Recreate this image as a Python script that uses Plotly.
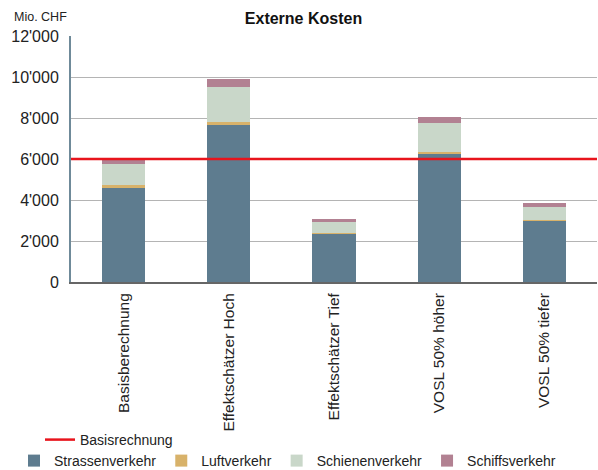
import plotly.graph_objects as go

# Scenarios (x categories)
scenarios = ["Basisberechnung", "Effektschätzer Hoch", "Effektschätzer Tief",
             "VOSL 50% höher", "VOSL 50% tiefer"]

# External costs by mode, Mio. CHF
strassen = [4620, 7650, 2350, 6250, 2980]
luft = [90, 150, 50, 80, 40]
schienen = [1030, 1720, 510, 1450, 660]
schiffs = [260, 370, 140, 290, 160]

# Reference value (total of the base calculation)
basis_total = 6000

y_ticks = [0, 2000, 4000, 6000, 8000, 10000, 12000]
y_ticklabels = ["0", "2'000", "4'000", "6'000", "8'000", "10'000", "12'000"]

series = [
    ("Strassenverkehr", strassen, "#5e7c8f"),
    ("Luftverkehr", luft, "#d8b26a"),
    ("Schienenverkehr", schienen, "#c9d7c9"),
    ("Schiffsverkehr", schiffs, "#b28192"),
]

xpos = list(range(len(scenarios)))
font = "Liberation Sans, Arial, sans-serif"
W, H = 598, 470
L, R, T, B = 71, 1, 36, 188
PW, PH = W - L - R, H - T - B


def px_x(px):
    return (px - L) / PW


def px_y(py):
    return (H - B - py) / PH


fig = go.Figure()
for name, vals, col in series:
    fig.add_trace(go.Bar(
        x=xpos, y=vals, name=name, marker=dict(color=col, line=dict(width=0)),
        width=0.41, legend="legend2",
    ))

fig.add_trace(go.Scatter(
    x=[-0.5, len(scenarios) - 0.5], y=[basis_total, basis_total],
    mode="lines", name="Basisrechnung",
    line=dict(color="#e8141c", width=2.5), legend="legend",
))

fig.update_layout(
    barmode="stack",
    width=W, height=H,
    margin=dict(l=L, r=R, t=T, b=B, autoexpand=False),
    paper_bgcolor="white", plot_bgcolor="white",
    font=dict(family=font, size=13, color="#222"),
    showlegend=True,
    title=dict(text="<b>Externe Kosten</b>", x=303.5 / W, xref="container",
               xanchor="center", y=1 - 18 / H, yanchor="middle",
               font=dict(size=16, color="#111", family=font)),
    legend=dict(orientation="h", x=px_x(40), xanchor="left",
                y=px_y(440), yanchor="middle",
                font=dict(size=14, color="#222"), itemwidth=30,
                bgcolor="rgba(0,0,0,0)"),
    legend2=dict(orientation="h", x=px_x(14), xanchor="left",
                 y=px_y(461), yanchor="middle",
                 font=dict(size=14, color="#222"), itemwidth=30,
                 bgcolor="rgba(0,0,0,0)", traceorder="normal"),
    xaxis=dict(
        range=[-0.5, len(scenarios) - 0.5],
        tickvals=xpos, ticktext=scenarios, tickangle=-90,
        showgrid=False, zeroline=False,
        showline=True, linecolor="#666", linewidth=2,
        ticks="", ticklabelstandoff=3, tickfont=dict(size=15.5, color="#222"),
    ),
    yaxis=dict(
        range=[0, 12000], tickvals=y_ticks, ticktext=y_ticklabels,
        showgrid=True, gridcolor="#b4b4b4", gridwidth=1,
        zeroline=False, showline=True, linecolor="#6f8a99", linewidth=2,
        ticks="", ticklabelstandoff=7, tickfont=dict(size=16, color="#222"),
    ),
    annotations=[dict(text="Mio. CHF", xref="paper", x=px_x(12),
                      xanchor="left", yref="paper", y=px_y(17),
                      yanchor="middle", showarrow=False,
                      font=dict(size=12.5, color="#222"))],
)

fig.write_html("out.html")
